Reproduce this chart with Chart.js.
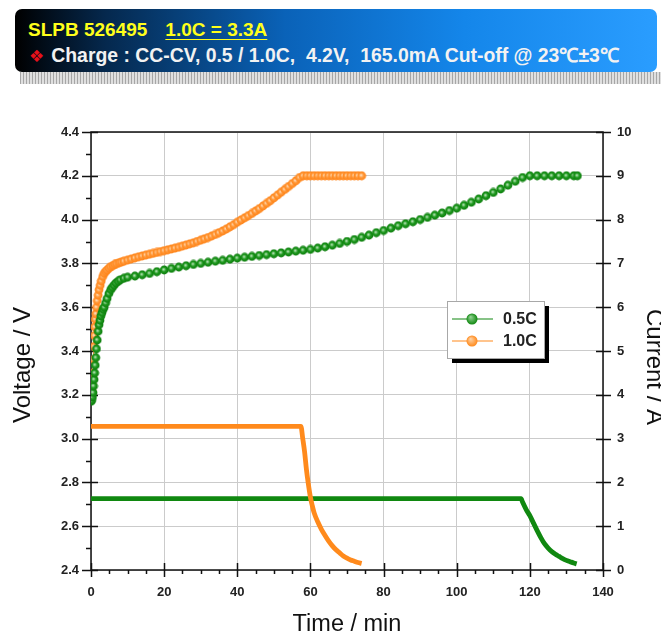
<!DOCTYPE html>
<html>
<head>
<meta charset="utf-8">
<script src="https://cdn.jsdelivr.net/npm/chart.js@4.4.1/dist/chart.umd.min.js"></script>
<style>
    body { margin: 0; background: #fff; width: 661px; height: 635px; overflow: hidden; position: relative; font-family: "Liberation Sans", Arial, sans-serif; }
    #banner { position: absolute; left: 15px; top: 9px; width: 642px; height: 63px; border-radius: 7px;
        background: linear-gradient(to right, #000 0%, #05284d 14%, #0a62b8 42%, #1486ea 70%, #2a9dff 100%); }
    #stripes { position: absolute; left: 20px; top: 72px; width: 641px; height: 12px;
        background: repeating-linear-gradient(90deg, #9c9c9c 0 1px, #dcdcdc 1px 3px); opacity: 0.9; }
    .line1 { position: absolute; left: 13px; top: 11px; font-size: 19px; font-weight: bold; color: #ffff1a; white-space: nowrap; line-height: 19px; }
    .line1 .u { margin-left: 18px; text-decoration: underline; text-underline-offset: 3px; }
    .line2 { position: absolute; left: 14px; top: 37px; font-size: 19.4px; font-weight: bold; color: #f2f2f2; white-space: nowrap; line-height: 19px; }
    .line2 .dia { color: #e8101a; font-family: "DejaVu Sans"; font-size: 17px; margin-right: 7px; }
    #chartBox { position: absolute; left: 0; top: 90px; }
</style>
</head>
<body>
<div id="banner">
    <div class="line1">SLPB 526495<span class="u">1.0C = 3.3A</span></div>
    <div class="line2"><span class="dia">❖</span>Charge : CC-CV, 0.5 / 1.0C,&nbsp; 4.2V,&nbsp; 165.0mA Cut-off @ 23℃±3℃</div>
</div>
<div id="stripes"></div>
<canvas id="chartBox" width="661" height="545"></canvas>
<script>
// voltage, 0.5C charge (time in min)
const t05V = [0, 0.2, 0.4, 0.55, 0.7, 0.85, 1.0, 1.15, 1.3, 1.5, 1.7, 1.95, 2.2, 2.45, 2.7, 3.0, 3.3, 3.6,
    4.0, 4.4, 4.9, 5.4, 5.8, 6.3, 6.8, 7.4, 8, 9,
    10, 12, 14, 16, 18, 20, 22, 24, 26, 28, 30, 32, 34, 36, 38, 40, 42, 44, 46, 48, 50, 52, 54, 56, 58,
    60, 62, 64, 66, 68, 70, 72, 74, 76, 78, 80, 82, 84, 86, 88, 90, 92, 94, 96, 98, 100, 102, 104, 106,
    108, 110, 112, 114, 116, 118, 120, 122, 124, 126, 128, 130, 132, 133];
const v05 = [3.17, 3.175, 3.19, 3.21, 3.24, 3.27, 3.30, 3.335, 3.37, 3.41, 3.45, 3.49, 3.52, 3.54, 3.56,
    3.575, 3.59, 3.60, 3.62, 3.64, 3.663, 3.68, 3.69, 3.70, 3.71, 3.718, 3.725, 3.732,
    3.737, 3.742, 3.748, 3.754, 3.762, 3.77, 3.777, 3.783, 3.789, 3.795, 3.80, 3.805, 3.81, 3.814, 3.819,
    3.824, 3.828, 3.832, 3.836, 3.84, 3.844, 3.848, 3.852, 3.856, 3.86, 3.864, 3.870, 3.876, 3.883,
    3.891, 3.900, 3.909, 3.919, 3.929, 3.940, 3.950, 3.961, 3.972, 3.981, 3.990, 4.000, 4.010, 4.020,
    4.030, 4.041, 4.052, 4.065, 4.079, 4.094, 4.109, 4.124, 4.140, 4.157, 4.175, 4.192, 4.2, 4.2, 4.2,
    4.2, 4.2, 4.2, 4.2, 4.2];

// voltage, 1.0C charge
const t10V = [0, 0.15, 0.3, 0.45, 0.6, 0.7, 0.8, 0.9, 1.0, 1.15, 1.3, 1.5, 1.7, 1.95, 2.2, 2.5, 2.8, 3.2,
    3.6, 4.0, 4.4, 4.9, 5.4, 6, 6.5, 7, 7.7, 8.3, 9,
    10, 11, 12, 13, 14, 15, 16, 17, 18, 19, 20, 21, 22, 23, 24, 25, 26, 27, 28, 29, 30, 31, 32, 33, 34,
    35, 36, 37, 38, 39, 40, 41, 42, 43, 44, 45, 46, 47, 48, 49, 50, 51, 52, 53, 54, 55, 56, 57, 58, 59,
    60, 61, 62, 63, 64, 65, 66, 67, 68, 69, 70, 71, 72, 73, 74];
const v10 = [3.19, 3.22, 3.25, 3.275, 3.30, 3.36, 3.42, 3.47, 3.51, 3.545, 3.57, 3.60, 3.63, 3.655, 3.68,
    3.70, 3.72, 3.74, 3.755, 3.763, 3.77, 3.778, 3.785, 3.79, 3.795, 3.799, 3.803, 3.806, 3.81,
    3.815, 3.82, 3.825, 3.83, 3.834, 3.838, 3.842, 3.846, 3.85, 3.854, 3.858, 3.862, 3.866, 3.87, 3.874,
    3.879, 3.884, 3.889, 3.894, 3.9, 3.906, 3.912, 3.918, 3.925, 3.932, 3.94, 3.948, 3.957, 3.967, 3.977,
    3.988, 3.998, 4.008, 4.018, 4.028, 4.039, 4.05, 4.062, 4.074, 4.086, 4.099, 4.112, 4.125, 4.138,
    4.151, 4.164, 4.177, 4.192, 4.2, 4.2, 4.2, 4.2, 4.2, 4.2, 4.2, 4.2, 4.2, 4.2, 4.2, 4.2, 4.2, 4.2,
    4.2, 4.2, 4.2];

// current, 0.5C charge (A)
const t05I = [0, 117.6, 118, 119, 120, 121, 122, 123, 124, 125, 126, 127, 128, 129, 130, 131, 132, 132.8];
const i05 = [1.63, 1.63, 1.55, 1.38, 1.24, 1.07, 0.9, 0.74, 0.6, 0.5, 0.42, 0.36, 0.31, 0.26, 0.22, 0.19, 0.16, 0.14];

// current, 1.0C charge
const t10I = [0, 57.4, 57.9, 58.4, 58.9, 59.4, 60, 60.5, 61, 62, 63, 64, 65, 66, 67, 68, 69, 70, 71, 72, 73, 74];
const i10 = [3.28, 3.28, 3.0, 2.7, 2.3, 1.98, 1.66, 1.47, 1.31, 1.1, 0.93, 0.79, 0.66, 0.55, 0.46, 0.39,
    0.32, 0.27, 0.23, 0.2, 0.17, 0.15];

const seriesNames = ['0.5C', '1.0C'];
const green = '#108810';
const orange = '#ff8a1c';

function toPoints(xs, ys){
    return xs.map((x, i) => ({x: x, y: ys[i]}));
}

// little shaded ball used as marker
function makeDot(edge, body, shine){
    const c = document.createElement('canvas');
    c.width = 10;
    c.height = 10;
    const g = c.getContext('2d');
    const grad = g.createRadialGradient(4.3, 4.3, 0.3, 5, 5, 4.6);
    grad.addColorStop(0, shine);
    grad.addColorStop(0.45, body);
    grad.addColorStop(1, edge);
    g.fillStyle = grad;
    g.beginPath();
    g.arc(5, 5, 4.4, 0, Math.PI * 2);
    g.fill();
    return c;
}
const greenDot = makeDot('#0a7a0a', '#1f991f', '#b5e2b5');
const orangeDot = makeDot('#ff7f10', '#ff9a3c', '#ffe0c0');

// frame and the tick marks (major ones cross the axis)
const axisMarks = {
    id: 'axisMarks',
    beforeDatasetsDraw(chart){
        const ctx = chart.ctx;
        const a = chart.chartArea;
        const sx = chart.scales.x;
        const sy = chart.scales.y;
        const sy1 = chart.scales.y1;
        ctx.save();
        ctx.strokeStyle = '#111';
        ctx.lineWidth = 1.5;
        ctx.strokeRect(a.left, a.top, a.right - a.left, a.bottom - a.top);
        ctx.beginPath();
        for(let v = 0; v <= 140; v += 5){
            const px = Math.round(sx.getPixelForValue(v)) + 0.5;
            if(v % 20 === 0){
                ctx.moveTo(px, a.bottom - 7);
                ctx.lineTo(px, a.bottom + 7);
            } else {
                ctx.moveTo(px, a.bottom);
                ctx.lineTo(px, a.bottom + 4);
            }
        }
        for(let k = 0; k <= 20; k++){
            const py = Math.round(sy.getPixelForValue(2.4 + k * 0.1)) + 0.5;
            if(k % 2 === 0){
                ctx.moveTo(a.left - 9, py);
                ctx.lineTo(a.left + 7, py);
            } else {
                ctx.moveTo(a.left - 5, py);
                ctx.lineTo(a.left, py);
            }
        }
        for(let k = 0; k <= 10; k++){
            const py = Math.round(sy1.getPixelForValue(k)) + 0.5;
            ctx.moveTo(a.right - 7, py);
            ctx.lineTo(a.right + 8, py);
        }
        ctx.stroke();
        ctx.restore();
    }
};

// vertical axis titles sit a bit below the middle in the original, the right one runs off the edge
const sideTitles = {
    id: 'sideTitles',
    afterDraw(chart){
        const ctx = chart.ctx;
        ctx.save();
        ctx.fillStyle = '#111';
        ctx.font = '24px "Liberation Sans", Arial, sans-serif';
        ctx.textAlign = 'center';
        ctx.textBaseline = 'middle';
        ctx.translate(23, 275);
        ctx.rotate(-Math.PI / 2);
        ctx.fillText('Voltage / V', 0, 0);
        ctx.restore();
        ctx.save();
        ctx.fillStyle = '#111';
        ctx.font = '24px "Liberation Sans", Arial, sans-serif';
        ctx.textAlign = 'center';
        ctx.textBaseline = 'middle';
        ctx.translate(654, 277);
        ctx.rotate(Math.PI / 2);
        ctx.fillText('Current / A', 0, 0);
        ctx.restore();
    }
};

// boxed legend with a drop shadow, like the original
const boxLegend = {
    id: 'boxLegend',
    afterDraw(chart){
        const ctx = chart.ctx;
        const bx = 447, by = 211, bw = 97, bh = 57;
        ctx.save();
        ctx.fillStyle = '#000';
        ctx.fillRect(bx + 5, by + 5, bw, bh);
        ctx.fillStyle = '#fff';
        ctx.fillRect(bx, by, bw, bh);
        ctx.strokeStyle = '#a8a8a8';
        ctx.lineWidth = 1;
        ctx.strokeRect(bx + 0.5, by + 0.5, bw, bh);
        const cols = [green, orange];
        for(let i = 0; i < seriesNames.length; i++){
            const ly = by + 18 + i * 22;
            ctx.strokeStyle = cols[i];
            ctx.lineWidth = 1.2;
            ctx.beginPath();
            ctx.moveTo(bx + 5, ly);
            ctx.lineTo(bx + 46, ly);
            ctx.stroke();
            const g = ctx.createRadialGradient(bx + 23.5, ly - 2, 0.5, bx + 25, ly, 5.5);
            g.addColorStop(0, i === 0 ? '#8fd08f' : '#ffd0a0');
            g.addColorStop(1, cols[i]);
            ctx.fillStyle = g;
            ctx.beginPath();
            ctx.arc(bx + 25, ly, 5.5, 0, Math.PI * 2);
            ctx.fill();
            ctx.fillStyle = '#222';
            ctx.font = 'bold 16px "Liberation Sans", Arial, sans-serif';
            ctx.textBaseline = 'middle';
            ctx.fillText(seriesNames[i], bx + 56, ly + 1);
        }
        ctx.restore();
    }
};

const tickFont = {family: '"Liberation Sans", Arial, sans-serif', weight: 'bold', size: 13};
const titleFont = {family: '"Liberation Sans", Arial, sans-serif', size: 23.5, lineHeight: 0.85};

const chart = new Chart(document.getElementById('chartBox'), {
    type: 'line',
    data: {
        datasets: [
            {
                label: seriesNames[1] + ' current',
                data: toPoints(t10I, i10),
                yAxisID: 'y1',
                borderColor: orange,
                borderWidth: 4.8,
                pointRadius: 0,
                cubicInterpolationMode: 'monotone',
                fill: false
            },
            {
                label: seriesNames[0] + ' current',
                data: toPoints(t05I, i05),
                yAxisID: 'y1',
                borderColor: green,
                borderWidth: 4.8,
                pointRadius: 0,
                cubicInterpolationMode: 'monotone',
                fill: false
            },
            {
                label: seriesNames[0],
                data: toPoints(t05V, v05),
                yAxisID: 'y',
                borderColor: green,
                borderWidth: 1,
                pointStyle: greenDot,
                pointRadius: 4.5,
                fill: false
            },
            {
                label: seriesNames[1],
                data: toPoints(t10V, v10),
                yAxisID: 'y',
                borderColor: orange,
                borderWidth: 1,
                pointStyle: orangeDot,
                pointRadius: 4.5,
                fill: false
            }
        ]
    },
    options: {
        responsive: false,
        animation: false,
        layout: {padding: {top: 42, left: 0, right: 0, bottom: 0}},
        plugins: {legend: {display: false}, tooltip: {enabled: false}},
        scales: {
            x: {
                type: 'linear',
                min: 0,
                max: 140,
                afterFit: s => { s.height = 65; },
                border: {display: false},
                grid: {color: '#cbcbcb', lineWidth: 1, drawTicks: false},
                ticks: {stepSize: 20, padding: 15, font: tickFont, color: '#222', maxRotation: 0, autoSkip: false},
                title: {display: true, text: 'Time / min', font: titleFont, color: '#111', padding: 0}
            },
            y: {
                position: 'left',
                min: 2.4,
                max: 4.4,
                afterFit: s => { s.width = 91; },
                border: {display: false},
                grid: {color: '#cbcbcb', lineWidth: 1, drawTicks: false},
                ticks: {stepSize: 0.2, padding: 12, font: tickFont, color: '#222', callback: v => v.toFixed(1)}
            },
            y1: {
                position: 'right',
                min: 0,
                max: 10,
                afterFit: s => { s.width = 58; },
                border: {display: false},
                grid: {drawOnChartArea: false, drawTicks: false},
                ticks: {stepSize: 1, padding: 14, font: tickFont, color: '#222'}
            }
        }
    },
    plugins: [axisMarks, sideTitles, boxLegend]
});
</script>
</body>
</html>
